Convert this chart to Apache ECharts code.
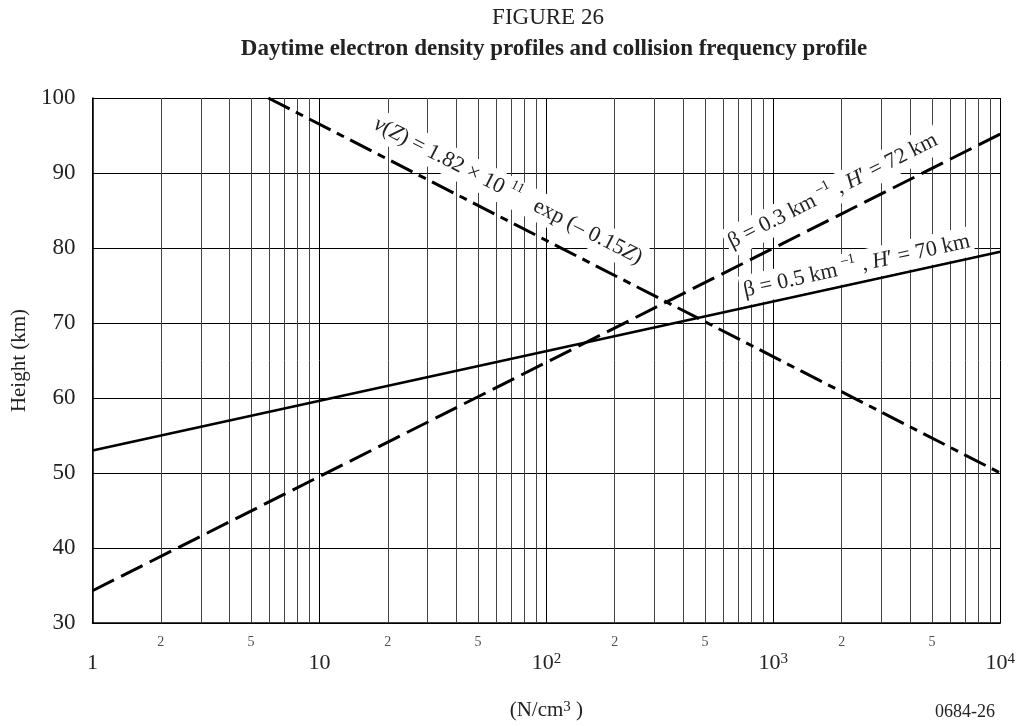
<!DOCTYPE html>
<html><head><meta charset="utf-8">
<script src="https://cdn.jsdelivr.net/npm/echarts@6/dist/echarts.min.js"></script>
<style>html,body{margin:0;padding:0;background:#fff;overflow:hidden}#c{width:1018px;height:726px}</style>
</head><body><div id="c"></div>
<script>
const FONT = '"Liberation Serif","Times New Roman",serif';

// Profiles: [N (cm^-3), height (km)]
const betaHalfN = [1, 10000];
const betaHalfH = [53, 79.5];
const betaThirdN = [1, 10000];
const betaThirdH = [34.3, 95.2];
const collisionN = [5.95, 10000];
const collisionH = [100, 50];

// Axis ticks / grid
const decadeValues = [1, 10, 100, 1000, 10000];
const decadeLabels = ['1', '10', '10{s|2}', '10{s|3}', '10{s|4}'];
const minorGridN = [2,3,4,5,6,7,8,9, 20,30,40,50,60,70,80,90, 200,300,400,500,600,700,800,900, 2000,3000,4000,5000,6000,7000,8000,9000];
const minorLabelN = [2, 5, 20, 50, 200, 500, 2000, 5000];
const minorLabelText = ['2', '5', '2', '5', '2', '5', '2', '5'];
const heightTicks = [30, 40, 50, 60, 70, 80, 90, 100];

const zip = (a, b) => a.map((v, i) => [v, b[i]]);

const chart = echarts.init(document.getElementById('c'), null, {renderer: 'canvas', width: 1018, height: 726});

chart.setOption({
  animation: false,
  backgroundColor: '#fff',
  textStyle: {fontFamily: FONT, color: '#222'},
  title: [
    {text: 'FIGURE 26', left: 543, top: 1, textAlign: 'center',
     textStyle: {fontFamily: FONT, fontWeight: 'normal', fontSize: 23, color: '#222'}},
    {text: 'Daytime electron density profiles and collision frequency profile', left: 549, top: 33, textAlign: 'center',
     textStyle: {fontFamily: FONT, fontWeight: 'bold', fontSize: 23, color: '#222'}}
  ],
  grid: {left: 92.5, top: 98, width: 908.2, height: 530, containLabel: false},
  xAxis: {
    type: 'log', logBase: 10, min: 1, max: 10000,
    name: '(N/cm{s|3} )', nameLocation: 'middle', nameGap: 77,
    nameTextStyle: {fontFamily: FONT, fontSize: 21, color: '#222',
      rich: {s: {fontFamily: FONT, fontSize: 15, verticalAlign: 'top', color: '#222'}}},
    axisLine: {show: true, lineStyle: {color: '#000', width: 1.5}},
    axisTick: {show: false},
    axisLabel: {
      margin: 29, fontFamily: FONT, fontSize: 22, color: '#222',
      formatter: function (v) {
        const i = decadeValues.indexOf(Math.round(v));
        return i >= 0 ? decadeLabels[i] : '';
      },
      rich: {s: {fontFamily: FONT, fontSize: 15, verticalAlign: 'top', color: '#222'}}
    },
    splitLine: {show: true, lineStyle: {color: '#000', width: 1}}
  },
  yAxis: {
    type: 'value', min: 30, max: 100, interval: 10,
    name: 'Height (km)', nameLocation: 'middle', nameGap: 57,
    nameTextStyle: {fontFamily: FONT, fontSize: 21, color: '#222'},
    axisLine: {show: true, lineStyle: {color: '#000', width: 1.5}},
    axisTick: {show: false},
    axisLabel: {margin: 17, fontFamily: FONT, fontSize: 23, color: '#222',
      formatter: v => heightTicks.indexOf(v) >= 0 ? String(v) : ''},
    splitLine: {show: true, lineStyle: {color: '#000', width: 1}}
  },
  series: [
    {
      type: 'line', data: [], z: 1, silent: true,
      markLine: {
        silent: true, symbol: 'none', animation: false,
        label: {show: false},
        lineStyle: {color: '#444', width: 1, type: 'solid'},
        data: minorGridN.map(v => ({xAxis: v}))
      }
    },
    {
      type: 'scatter', data: minorLabelN.map(v => [v, 30]), symbolSize: 0, z: 1, silent: true,
      label: {show: true, position: 'bottom', distance: 12, fontFamily: FONT, fontSize: 14, color: '#222',
        formatter: p => minorLabelText[p.dataIndex]}
    },
    {
      name: 'beta05', type: 'line', data: zip(betaHalfN, betaHalfH), symbol: 'none', z: 5,
      lineStyle: {color: '#000', width: 2.6, type: 'solid'}
    },
    {
      name: 'beta03', type: 'line', data: zip(betaThirdN, betaThirdH), symbol: 'none', z: 5,
      lineStyle: {color: '#000', width: 3, type: [24, 8]}
    },
    {
      name: 'nu', type: 'line', data: zip(collisionN, collisionH), symbol: 'none', z: 5,
      lineStyle: {color: '#000', width: 3, type: [24, 7, 8, 7]}
    }
  ]
});

// Rotated annotations positioned in data coordinates
const px = p => chart.convertToPixel({gridIndex: 0}, p);
function angleOf(N, H) {
  const a = px([N[0], H[0]]), b = px([N[N.length - 1], H[H.length - 1]]);
  return Math.atan2(-(b[1] - a[1]), b[0] - a[0]);
}
const richStyles = {
  i: {fontFamily: FONT, fontSize: 22, fontStyle: 'italic', fill: '#222'},
  sup: {fontFamily: FONT, fontSize: 14, verticalAlign: 'top', fill: '#222'}
};
function label(text, at, angle) {
  const p = px(at);
  return {
    type: 'text', x: p[0], y: p[1], rotation: angle, z: 10, silent: true,
    style: {
      text: text, fontFamily: FONT, fontSize: 22, fill: '#222',
      align: 'center', verticalAlign: 'middle', lineHeight: 30,
      backgroundColor: '#fff', padding: [0, 3], rich: richStyles
    }
  };
}
chart.setOption({
  graphic: [
    label('{i|ν}({i|Z}) = 1.82 × 10 {sup|11}   exp (– 0.15{i|Z})', [67.7, 87.6], angleOf(collisionN, collisionH)),
    label('β = 0.3 km {sup|–1} , {i|H}′ = 72 km', [1828, 87.6], angleOf(betaThirdN, betaThirdH)),
    label('β = 0.5 km {sup|–1} , {i|H}′ = 70 km', [2333, 77.6], angleOf(betaHalfN, betaHalfH)),
    {type: 'text', right: 23, top: 703, silent: true,
     style: {text: '0684-26', fontFamily: FONT, fontSize: 18, fill: '#222'}}
  ]
});
</script>
</body></html>
